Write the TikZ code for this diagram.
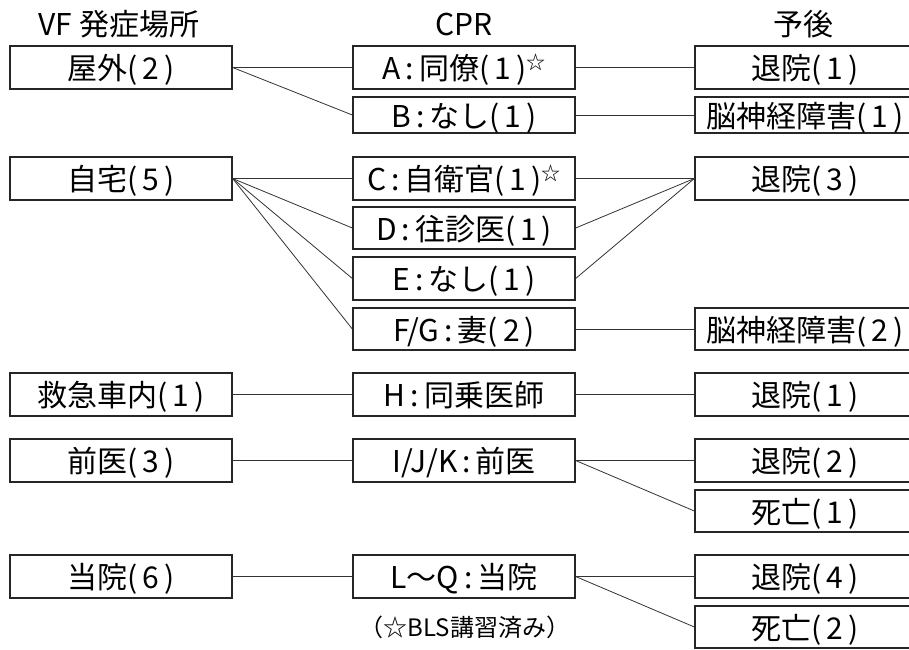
\documentclass[tikz,border=0pt]{standalone}
\usepackage{fontspec}
\newfontfamily\cjk{Noto Sans CJK JP}
\newcommand\hoshi{\raisebox{10pt}{\fontsize{19}{19}\selectfont ☆}}
\tikzset{
  bx/.style={draw=black!85, line width=1.3pt, minimum height=43pt, inner sep=0pt,
    text height=27pt, text depth=3pt,
    font=\cjk\fontsize{30}{30}\selectfont},
  lbx/.style={bx, minimum width=222pt},
  mbx/.style={bx, minimum width=222pt},
  rbx/.style={bx, minimum width=220pt},
  hd/.style={font=\cjk\fontsize{30}{30}\selectfont, inner sep=0pt},
  ln/.style={draw=black!80, line width=0.8pt}
}
\begin{document}
\begin{tikzpicture}[x=1pt,y=-1pt]
\clip (0,0) rectangle (909,649);
\fill[white] (0,0) rectangle (909,649);
% headers
\node[hd] (h1) at (119,24) {VF 発症場所};
\node[hd] (h2) at (464,24) {CPR};
\node[hd] (h3) at (803,24) {予後};
% left column
\node[lbx] (L1) at (121,67.5) {屋外(\,2\,)};
\node[lbx] (L2) at (121,178.5) {自宅(\,5\,)};
\node[lbx] (L3) at (121,394.5) {救急車内(\,1\,)};
\node[lbx] (L4) at (121,460.5) {前医(\,3\,)};
\node[lbx] (L5) at (121,576.5) {当院(\,6\,)};
% middle column
\node[mbx] (A) at (464,67.5) {A\,:\,同僚(\,1\,)\hoshi};
\node[mbx, minimum height=36pt] (B) at (464,115) {B\,:\,なし(\,1\,)};
\node[mbx] (C) at (464,178.5) {C\,:\,自衛官(\,1\,)\hoshi};
\node[mbx, minimum height=42pt] (D) at (464,228) {D\,:\,往診医(\,1\,)};
\node[mbx] (E) at (464,278.5) {E\,:\,なし(\,1\,)};
\node[mbx, minimum height=42pt] (FG) at (464,329) {F/G\,:\,妻(\,2\,)};
\node[mbx] (H) at (464,394.5) {H\,:\,同乗医師};
\node[mbx] (IJK) at (464,460.5) {I/J/K\,:\,前医};
\node[mbx] (LQ) at (464,576.5) {L〜Q\,:\,当院};
\node[font=\cjk\fontsize{24}{24}\selectfont, inner sep=0pt] (note) at (465,627) {（☆BLS講習済み）};
% right column
\node[rbx] (R1) at (805,67.5) {退院(\,1\,)};
\node[rbx, minimum height=36pt] (R2) at (805,115) {脳神経障害(\,1\,)};
\node[rbx] (R3) at (805,178.5) {退院(\,3\,)};
\node[rbx, minimum height=42pt] (R4) at (805,329) {脳神経障害(\,2\,)};
\node[rbx] (R5) at (805,394.5) {退院(\,1\,)};
\node[rbx] (R6) at (805,460.5) {退院(\,2\,)};
\node[rbx, minimum height=42pt] (R7) at (805,511) {死亡(\,1\,)};
\node[rbx] (R8) at (805,576.5) {退院(\,4\,)};
\node[rbx, minimum height=42pt] (R9) at (805,627) {死亡(\,2\,)};
% connectors
\draw[ln] (L1.east) -- (A.west);
\draw[ln] (L1.east) -- (B.west);
\draw[ln] (L2.east) -- (C.west);
\draw[ln] (L2.east) -- (D.west);
\draw[ln] (L2.east) -- (E.west);
\draw[ln] (L2.east) -- (FG.west);
\draw[ln] (L3.east) -- (H.west);
\draw[ln] (L4.east) -- (IJK.west);
\draw[ln] (L5.east) -- (LQ.west);
\draw[ln] (A.east) -- (R1.west);
\draw[ln] (B.east) -- (R2.west);
\draw[ln] (C.east) -- (R3.west);
\draw[ln] (D.east) -- (R3.west);
\draw[ln] (E.east) -- (R3.west);
\draw[ln] (FG.east) -- (R4.west);
\draw[ln] (H.east) -- (R5.west);
\draw[ln] (IJK.east) -- (R6.west);
\draw[ln] (IJK.east) -- (R7.west);
\draw[ln] (LQ.east) -- (R8.west);
\draw[ln] (LQ.east) -- (R9.west);
\end{tikzpicture}
\end{document}
